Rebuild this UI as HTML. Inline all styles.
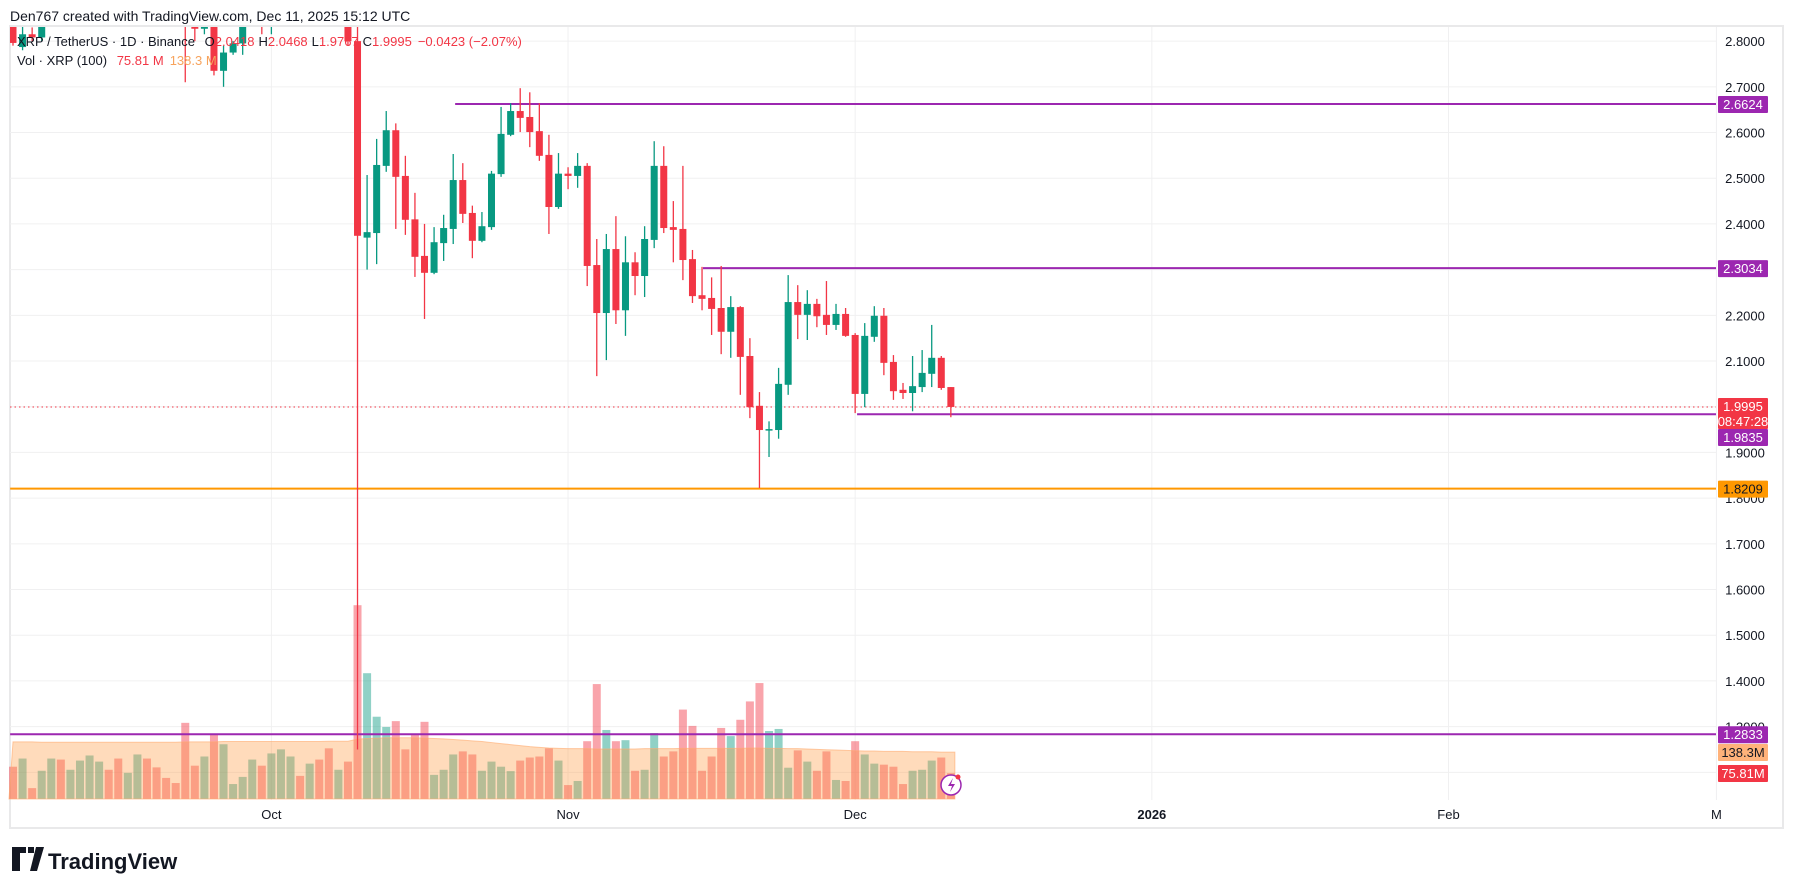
<!DOCTYPE html>
<html><head><meta charset="utf-8">
<style>
html,body{margin:0;padding:0;background:#fff;}
svg{display:block;font-family:"Liberation Sans",sans-serif;}
</style></head>
<body>
<svg id="chart" width="1793" height="885" viewBox="0 0 1793 885">
  <rect x="0" y="0" width="1793" height="885" fill="#fff"/>
  <text x="10" y="21" font-size="14" fill="#131722">Den767 created with TradingView.com, Dec 11, 2025 15:12 UTC</text>
  <rect x="10" y="26" width="1773" height="802" fill="none" stroke="#e9e9ea" stroke-width="2"/>
  <g id="grid"></g>
  <g id="vol"></g>
  <g id="lines"></g>
  <g id="candles" clip-path="url(#clipMain)"></g>
  <defs><clipPath id="clipMain"><rect x="10" y="27" width="1706" height="800"/></clipPath></defs>
  <g id="axis"></g>
  <g id="taxis"></g>
  <g>
    <rect x="14" y="30" width="470" height="38" fill="#fff" fill-opacity="0.0"/>
    <text x="17" y="46" font-size="13" fill="#131722">XRP / TetherUS · 1D · Binance <tspan dx="6">O</tspan><tspan fill="#f23645">2.0418</tspan><tspan dx="4">H</tspan><tspan fill="#f23645">2.0468</tspan><tspan dx="4">L</tspan><tspan fill="#f23645">1.9767</tspan><tspan dx="4">C</tspan><tspan fill="#f23645">1.9995</tspan><tspan dx="6" fill="#f23645">−0.0423 (−2.07%)</tspan></text>
    <text x="17" y="65" font-size="13" fill="#131722">Vol · XRP (100) <tspan dx="6" fill="#f23645">75.81 M</tspan><tspan dx="6" fill="#f7a35c">138.3 M</tspan></text>
  </g>
  <g>
    <path d="M12 847h14v6h-6v18h-8z M28 847h6v6h-6z M36 847h8l-7 24h-7z" fill="#131722"/>
    <text x="48" y="869" font-size="22" font-weight="bold" fill="#131722">TradingView</text>
  </g>
  <g>
    <circle cx="951" cy="785" r="10" fill="#fff" stroke="#9c27b0" stroke-width="1.5"/>
    <path d="M953 778l-5 8h4l-2 6 5-8h-4z" fill="#9c27b0"/>
    <circle cx="958" cy="777" r="2.5" fill="#f23645"/>
  </g>
</svg>
<script>
const dates = [];
const opens = [2.86,2.787,2.815,2.808,2.85,2.95,2.90,2.99,3.02,3.08,3.10,3.03,2.99,3.02,3.06,2.98,2.92,2.90,2.90,2.85,2.827,2.86,2.735,2.775,2.795,2.85,2.93,2.87,2.95,3.00,3.03,2.95,2.98,2.92,2.86,2.90,2.80,2.37,2.38,2.527,2.605,2.505,2.41,2.33,2.293,2.358,2.389,2.496,2.424,2.363,2.393,2.509,2.595,2.647,2.634,2.603,2.551,2.437,2.51,2.505,2.527,2.31,2.205,2.345,2.211,2.316,2.286,2.365,2.527,2.393,2.389,2.323,2.244,2.238,2.216,2.164,2.218,2.111,2.002,1.949,1.949,2.048,2.229,2.201,2.225,2.201,2.179,2.203,2.157,2.028,2.153,2.199,2.098,2.037,2.03,2.043,2.072,2.107,2.043];
const highs = [2.90,2.85,2.83,2.90,2.97,2.99,3.01,3.05,3.10,3.14,3.12,3.05,3.04,3.10,3.08,3.00,2.95,2.93,2.92,2.87,2.845,2.87,2.79,2.80,2.86,2.95,2.96,2.97,3.02,3.05,3.04,3.00,2.99,2.94,2.92,2.92,2.84,2.507,2.586,2.647,2.62,2.549,2.468,2.40,2.393,2.42,2.553,2.533,2.44,2.426,2.516,2.656,2.664,2.697,2.688,2.664,2.595,2.555,2.524,2.555,2.533,2.367,2.378,2.417,2.373,2.338,2.395,2.581,2.57,2.45,2.527,2.343,2.306,2.283,2.308,2.242,2.22,2.15,2.032,1.968,2.085,2.288,2.266,2.255,2.236,2.275,2.225,2.216,2.161,2.183,2.22,2.216,2.113,2.052,2.111,2.124,2.179,2.111,2.043];
const lows = [2.79,2.78,2.80,2.80,2.845,2.88,2.89,2.96,3.00,3.04,3.00,2.95,2.96,3.00,2.96,2.90,2.88,2.87,2.71,2.80,2.815,2.725,2.70,2.77,2.77,2.84,2.815,2.815,2.92,2.97,2.93,2.92,2.90,2.84,2.85,2.79,1.25,2.30,2.312,2.514,2.389,2.376,2.284,2.192,2.29,2.319,2.356,2.402,2.325,2.36,2.387,2.503,2.592,2.601,2.568,2.538,2.378,2.433,2.476,2.479,2.264,2.067,2.102,2.181,2.155,2.244,2.24,2.347,2.38,2.316,2.277,2.227,2.211,2.157,2.115,2.107,2.026,1.975,1.822,1.89,1.93,2.026,2.148,2.146,2.174,2.157,2.168,2.153,1.986,1.999,2.142,2.069,2.015,2.017,1.99,2.032,2.043,2.037,1.977];
const closes = [2.796,2.815,2.808,2.85,2.95,2.90,2.99,3.02,3.08,3.10,3.03,2.99,3.02,3.06,2.98,2.92,2.90,2.88,2.86,2.827,2.84,2.735,2.775,2.795,2.85,2.93,2.87,2.95,3.00,3.03,2.95,2.98,2.92,2.86,2.90,2.80,2.374,2.382,2.529,2.605,2.503,2.409,2.328,2.293,2.36,2.391,2.496,2.422,2.363,2.395,2.51,2.597,2.647,2.632,2.601,2.549,2.437,2.51,2.505,2.527,2.308,2.205,2.345,2.211,2.316,2.286,2.367,2.527,2.391,2.387,2.321,2.242,2.236,2.214,2.164,2.218,2.109,1.999,1.949,1.951,2.05,2.229,2.201,2.225,2.198,2.179,2.203,2.155,2.028,2.155,2.199,2.096,2.034,2.03,2.045,2.074,2.107,2.041,1.9995];
const volumes = [95,119,32,83,119,116,86,113,128,110,86,119,77,131,119,93,62,47,224,98,125,191,161,44,65,116,98,134,146,125,68,104,116,149,86,110,570,370,242,212,229,146,191,227,71,86,131,140,131,83,110,95,82,113,122,125,149,113,41,53,170,338,203,170,173,83,86,194,125,140,263,215,83,125,209,185,233,287,341,200,206,92,143,110,83,140,56,53,170,131,104,101,95,44,83,86,113,122,76];
const volMA = [168,168,168,167,167,167,167,167,167,167,167,167,167,167,167,167,167,167,168,168,168,168,169,169,169,169,169,169,169,169,169,169,169,170,170,170,176,178,179,180,180,180,180,179,178,177,175,173,171,169,166,163,160,157,154,152,150,149,148,148,148,147,147,147,147,147,148,148,148,148,149,149,149,149,149,149,149,150,150,149,149,148,148,147,146,145,144,143,142,141,141,140,140,140,139,139,139,138,138];
const priceTicks = [2.8,2.7,2.6,2.5,2.4,2.3,2.2,2.1,2.0,1.9,1.8,1.7,1.6,1.5,1.4,1.3];
const gridTicks = [2.8,2.7,2.6,2.5,2.4,2.3,2.2,2.1,2.0,1.9,1.8,1.7,1.6,1.5,1.4,1.3,1.2];
const timeLabels = ["Oct","Nov","Dec","2026","Feb","M"];
const timeDayOffsets = [27,58,88,119,150,178];
const levelPrices = [2.6624,2.3034,1.9835,1.8209,1.2833];
const levelStartIdx = [46.2,72.1,88.2,-0.3,-0.3];
const lastPrice = 1.9995;

const NS="http://www.w3.org/2000/svg";
function y(p){return 104+(2.6624-p)*457;}
function x(i){return 13+i*9.57;}
function vy(v){return 799-v*0.34;}
function mk(tag,attrs,parent){const e=document.createElementNS(NS,tag);for(const k in attrs)e.setAttribute(k,attrs[k]);parent.appendChild(e);return e;}
const G=id=>document.getElementById(id);
const UP="#089981",DN="#f23645";

// grid
gridTicks.forEach(p=>{const l=mk('line',{x1:10,x2:1716,y1:y(p),y2:y(p),stroke:'#f0f0f1','stroke-width':1},G('grid'));

});
timeDayOffsets.forEach(d=>{const l=mk('line',{x1:x(d),x2:x(d),y1:27,y2:800,stroke:'#f0f0f1','stroke-width':1},G('grid'));

});

// volume
volumes.forEach((v,i)=>{const up=closes[i]>=opens[i];
const r=mk('rect',{x:x(i)-4,y:vy(v),width:8,height:v*0.34,fill:up?'rgba(8,153,129,0.45)':'rgba(242,54,69,0.45)'},G('vol'));

});
let d='M'+(x(0)-4)+' 799';
volMA.forEach((v,i)=>{d+=' L'+x(i)+' '+vy(v);});
d+=' L'+(x(volMA.length-1)+4)+' '+vy(volMA[volMA.length-1])+' L'+(x(volMA.length-1)+4)+' 799 Z';
const ma=mk('path',{d:d,fill:'rgba(255,152,60,0.35)',stroke:'rgba(255,170,110,0.6)','stroke-width':1},G('vol'));



// candles
opens.forEach((o,i)=>{const c=closes[i],up=c>=o,col=up?UP:DN;
const w=mk('line',{x1:x(i),x2:x(i),y1:y(highs[i]),y2:y(lows[i]),stroke:col,'stroke-width':1.3},G('candles'));


const top=y(Math.max(o,c)),h=Math.max(1.5,Math.abs(y(o)-y(c)));
const b=mk('rect',{x:x(i)-3.5,y:top,width:7,height:h,fill:col},G('candles'));

});

// last price dotted line
const lp=mk('line',{x1:10,x2:1716,y1:y(lastPrice),y2:y(lastPrice),stroke:DN,'stroke-width':1,'stroke-dasharray':'1.5 3'},G('lines'));


// levels
levelPrices.forEach((p,k)=>{const col=k===3?'#ff9800':'#9c27b0';
const l=mk('line',{x1:Math.max(10,x(levelStartIdx[k])),x2:1716,y1:y(p),y2:y(p),stroke:col,'stroke-width':2},G('lines'));

});

// price axis labels
priceTicks.forEach(p=>{const t=mk('text',{x:1745,y:y(p)+5,'font-size':13,fill:'#131722','text-anchor':'middle'},G('axis'));
t.textContent=p.toFixed(4);

});
function badge(yc,h,bg,fg,lines,name){const g=mk('g',{},G('axis'));


mk('rect',{x:1718,y:yc,width:50,height:h,fill:bg,rx:1},g);
lines.forEach((s,j)=>{const t=mk('text',{x:1743,y:yc+13+j*15,'font-size':13,fill:fg,'text-anchor':'middle'},g);t.textContent=s;});}
badge(y(2.6624)-8,17,'#9c27b0','#fff',['2.6624'],'level-badge-2-6624');
badge(y(2.3034)-8,17,'#9c27b0','#fff',['2.3034'],'level-badge-2-3034');
badge(398,31,'#f23645','#fff',['1.9995','08:47:28'],'last-price-badge');
badge(429,17,'#9c27b0','#fff',['1.9835'],'level-badge-1-9835');
badge(y(1.8209)-8,17,'#ff9800','#131722',['1.8209'],'level-badge-1-8209');
badge(y(1.2833)-8,17,'#9c27b0','#fff',['1.2833'],'level-badge-1-2833');
badge(744,17,'#ffb27a','#131722',['138.3M'],'volume-ma-badge');
badge(765,17,'#f23645','#fff',['75.81M'],'volume-badge');

// time axis
timeLabels.forEach((s,k)=>{const t=mk('text',{x:x(timeDayOffsets[k]),y:819,'font-size':13,fill:'#131722','text-anchor':'middle','font-weight':s==='2026'?'bold':'normal'},G('taxis'));
t.textContent=s;

});
</script>
</body></html>
